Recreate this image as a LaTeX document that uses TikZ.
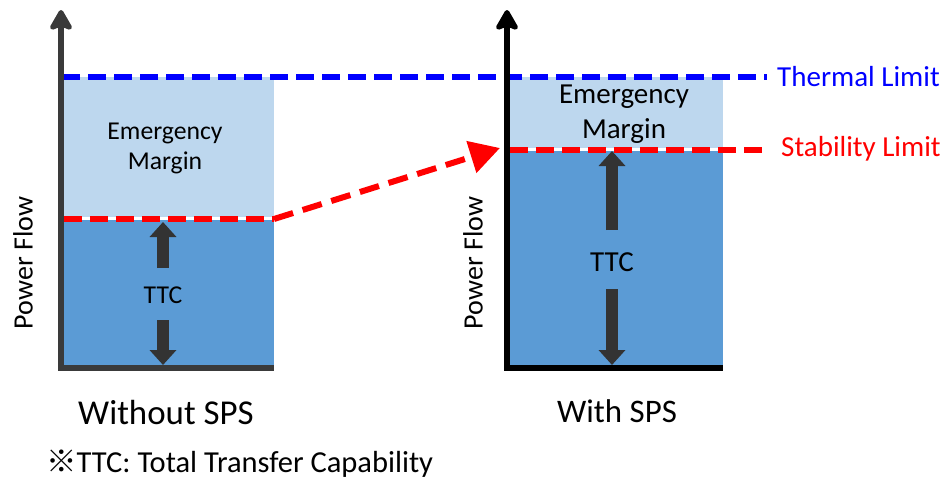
\documentclass[tikz,border=0pt]{standalone}
\usepackage{fontspec}
\setmainfont{Carlito}
\newfontfamily\cjk{Noto Sans CJK JP}
\usetikzlibrary{arrows.meta}
\definecolor{lightfill}{HTML}{BDD7EE}
\definecolor{midfill}{HTML}{5B9BD5}
\definecolor{axisgray}{HTML}{3A3A3A}
\definecolor{blockgray}{HTML}{333333}
\definecolor{limblue}{HTML}{0000FF}
\definecolor{limred}{HTML}{FF0000}
\begin{document}
\begin{tikzpicture}[x=1pt,y=-1pt,
  axisline/.style={line width=6pt,line cap=butt},
  axisarrow/.style={-{Stealth[width=27pt,length=24pt,inset=5pt,round]}},
  limitline/.style={line width=6pt,dash pattern=on 18pt off 8pt},
  blockarrow/.style={blockgray,line width=12pt,-{Triangle[width=26pt,length=15pt]}},
  lbl/.style={font=\fontsize{25.7}{30}\selectfont,align=center,inner sep=0pt},
  lblbig/.style={font=\fontsize{29}{35}\selectfont,align=center,inner sep=0pt},
  axlbl/.style={font=\fontsize{28}{32}\selectfont,inner sep=0pt,rotate=90},
  limlbl/.style={font=\fontsize{29}{32}\selectfont,inner sep=0pt,anchor=west}]
\useasboundingbox (0,0) rectangle (947,479);
% ---- left chart boxes
\fill[lightfill] (64,77) rectangle (274,217);
\fill[midfill] (64,220) rectangle (274,365);
% ---- right chart boxes
\fill[lightfill] (510,77) rectangle (723,148);
\fill[midfill] (510,151) rectangle (723,365);
% ---- coordinates
\coordinate (thA) at (62,77);
\coordinate (thB) at (767,77);
\coordinate (stLA) at (64,219);
\coordinate (stLB) at (274,219);
\coordinate (stRA) at (510,150);
\coordinate (stRB) at (767,150);
\coordinate (shiftEnd) at (500,148);
% ---- limit lines
\draw[limitline,limblue] (thA) -- (thB);
\draw[limitline,limred] (stLA) -- (stLB);
\draw[limitline,limred] (stRA) -- (stRB);
\draw[limred,line width=6pt,dash pattern=on 20pt off 10pt,-{Triangle[width=32pt,length=30pt]}] (stLB) -- (shiftEnd);
% ---- left axes
\coordinate (lOrig) at (61,368);
\coordinate (lTop) at (61,10);
\coordinate (lRight) at (274,368);
\draw[axisline,axisgray,axisarrow] (lOrig) -- (lTop);
\draw[axisline,axisgray] (58,368) -- (lRight);
% ---- right axes
\coordinate (rOrig) at (507,368);
\coordinate (rTop) at (507,10);
\coordinate (rRight) at (723,368);
\draw[axisline,black,axisarrow] (rOrig) -- (rTop);
\draw[axisline,black] (504,368) -- (rRight);
% ---- left labels
\node[lbl] (emL) at (165,148) {Emergency\\Margin};
\node[lbl] (ttcL) at (163,295) {TTC};
\coordinate (upLs) at (163,268);
\coordinate (upLt) at (163,222);
\coordinate (dnLs) at (163,320);
\coordinate (dnLt) at (163,365);
\draw[blockarrow] (upLs) -- (upLt);
\draw[blockarrow] (dnLs) -- (dnLt);
\node[axlbl] (pfL) at (23,263) {Power Flow};
\node[font=\fontsize{34.9}{38}\selectfont,inner sep=0pt] (woSPS) at (166,413) {Without SPS};
% ---- right labels
\node[lblbig] (emR) at (624,114) {Emergency\\Margin};
\node[lblbig] (ttcR) at (612,262) {TTC};
\coordinate (upRs) at (612,230);
\coordinate (upRt) at (612,151);
\coordinate (dnRs) at (612,289);
\coordinate (dnRt) at (612,365);
\draw[blockarrow] (upRs) -- (upRt);
\draw[blockarrow] (dnRs) -- (dnRt);
\node[axlbl] (pfR) at (473,263) {Power Flow};
\node[font=\fontsize{32.9}{36}\selectfont,inner sep=0pt] (wSPS) at (617,411) {With SPS};
% ---- limit labels
\node[limlbl,text=limblue] (thLbl) at (777,77) {Thermal Limit};
\node[limlbl,text=limred] (stLbl) at (781,149) {Stability Limit};
% ---- note
\node[font=\fontsize{30.5}{34}\selectfont,inner sep=0pt,anchor=west] (note) at (46,464) {{\cjk\smash{※}}TTC: Total Transfer Capability};
\end{tikzpicture}
\end{document}
